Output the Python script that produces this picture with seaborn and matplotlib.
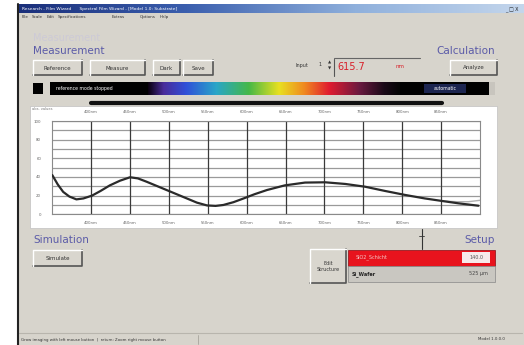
import numpy as np
import pandas as pd
import seaborn as sns
import matplotlib.pyplot as plt
import matplotlib.patches as mpatches
from matplotlib.colors import LinearSegmentedColormap

# spectrum curve (wavelength in nm, value)
wavelength = [350, 357, 364, 372, 381, 390, 401, 412, 424, 437, 450, 460, 471, 484,
              497, 510, 523, 536, 549, 560, 570, 583, 596, 610, 626, 649, 675, 701,
              727, 752, 778, 804, 829, 851, 872, 898]
signal = [42, 32, 24, 19, 16, 17, 20, 25, 31, 36, 39.7, 38.5, 35, 30.5,
          26, 21.5, 17, 12.5, 9.5, 9, 10, 13, 17, 21.5, 26, 31, 34, 34.3,
          32.5, 29.6, 25, 20.7, 17, 14.3, 11.8, 9.2]
ref_wl = [851, 870, 885, 900]
ref_val = [14.3, 13.5, 13.5, 15]

x_ticks = [400, 450, 500, 550, 600, 650, 700, 750, 800, 850]
x_labels = ['%dnm' % v for v in x_ticks]
y_ticks = [0, 20, 40, 60, 80, 100]

menu_items = ['File', 'Scale', 'Edit', 'Specifications', 'Extras', 'Options', 'Help']
buttons = ['Reference', 'Measure', 'Dark', 'Save']
layers = ['SiO2_Schicht', 'Si_Wafer']
layer_vals = ['140.0', '525 µm']

sns.set_theme(style='white')
plt.rcParams['font.family'] = ['DejaVu Sans']

W, H = 524, 345
BG = '#d7d4cc'
BLUE = '#5b5ba8'

fig = plt.figure(figsize=(W / 100, H / 100), dpi=100)
fig.patch.set_facecolor('white')

ui = fig.add_axes([0, 0, 1, 1])
ui.set_xlim(0, W)
ui.set_ylim(H, 0)
ui.axis('off')


def box(x0, y0, x1, y1, fc, ec='none', lw=0, z=1):
    ui.add_patch(mpatches.Rectangle((x0, y0), x1 - x0, y1 - y0, fc=fc, ec=ec, lw=lw, zorder=z))


def button(x0, y0, x1, y1, label, fs=4):
    box(x0, y0, x1, y1, '#d9d6ce', z=2)
    ui.plot([x0, x1, x1], [y1, y1, y0], color='#555555', lw=1.2, zorder=3)
    ui.plot([x0, x0, x1], [y1, y0, y0], color='white', lw=1, zorder=3)
    ui.text((x0 + x1) / 2, (y0 + y1) / 2 + 0.5, label, fontsize=fs, color='#333333',
            ha='center', va='center', zorder=4)


# window
box(17, 4, W, H, BG)
ui.plot([17.5, 17.5], [4, H], color='#222222', lw=1.5, zorder=5)

# title bar
grad = np.linspace(0, 1, 256).reshape(1, -1)
title_cmap = LinearSegmentedColormap.from_list('tb', ['#1a2f7a', '#3b5fae', '#8fb0dc', '#c4d6ec'])
ui.imshow(grad, cmap=title_cmap, extent=(18, W, 13, 4), aspect='auto', zorder=2)
ui.text(22, 8.8, 'Research - Film Wizard      Spectral Film Wizard - [Model 1.0: Substrate]',
        fontsize=3.2, color='white', va='center', zorder=3)
ui.text(519, 9, '_ □ X', fontsize=3.5, color='#222222', ha='right', va='center', zorder=3)

# menu
menu_x = [22, 32, 47, 58, 112, 140, 160]
for mx, item in zip(menu_x, menu_items):
    ui.text(mx, 17, item, fontsize=3, color='#333333', va='center')

# measurement group
ui.text(33, 38, 'Measurement', fontsize=7, color='#cdcad6', va='center')
ui.text(33, 51, 'Measurement', fontsize=7.5, color=BLUE, va='center')
for (x0, x1), lab in zip([(33, 82), (90, 145), (153, 180), (183, 213)], buttons):
    button(x0, 60, x1, 75, lab)

ui.text(296, 65, 'Input', fontsize=3.5, color='#333333', va='center')
ui.text(318, 65, '1', fontsize=3.5, color='#333333', va='center')
ui.text(329.5, 63, '▲', fontsize=3, color='#333333', ha='center', va='center')
ui.text(329.5, 69, '▼', fontsize=3, color='#333333', ha='center', va='center')
ui.plot([334, 334], [59, 76], color='#555555', lw=0.8)
ui.plot([334, 420], [58, 58], color='#666666', lw=0.8)
ui.text(337, 67, '615.7', fontsize=7, color='#d8202a', va='center')
ui.text(400, 67, 'nm', fontsize=4, color='#d8202a', ha='center', va='center')

ui.text(495, 51, 'Calculation', fontsize=7.5, color=BLUE, ha='right', va='center')
button(450, 60, 497, 75, 'Analyze')

# spectrum bar
box(33, 83, 43, 94, 'black')
box(50, 82, 489, 95, 'black')
spec_cmap = LinearSegmentedColormap.from_list('spec', [
    (0.0, '#0a0010'), (0.06, '#4a2c9a'), (0.15, '#3050d8'), (0.27, '#2aa6c8'),
    (0.4, '#46b848'), (0.52, '#e8e020'), (0.62, '#f08a20'), (0.72, '#e01c30'),
    (0.84, '#6a1a40'), (0.94, '#1a0a18'), (1.0, '#050505')])
ui.imshow(grad, cmap=spec_cmap, extent=(148, 400, 95, 82), aspect='auto', zorder=2)
ui.text(56, 88.5, 'reference mode stopped', fontsize=3.3, color='white', va='center', zorder=3)
box(424, 84, 466, 93, '#1c2550', z=3)
ui.text(445, 88.5, 'automatic', fontsize=3.3, color='white', ha='center', va='center', zorder=4)
box(489, 82, 495, 95, '#c8c5be', z=3)

# thick bar above plot
ui.plot([91, 442], [102.5, 102.5], color='#111111', lw=3, solid_capstyle='round')

# plot panel
box(30, 106, 497, 228, 'white', ec='#c0c0c0', lw=0.5)
ui.text(32, 108.5, 'abs. values', fontsize=2.6, color='#777777', va='center')

# bottom section
ui.text(33, 240, 'Simulation', fontsize=7.5, color=BLUE, va='center')
button(33, 250, 82, 266, 'Simulate')
ui.text(495, 240, 'Setup', fontsize=7.5, color=BLUE, ha='right', va='center')
ui.plot([421.5, 421.5], [229, 249], color='#333333', lw=0.8)
ui.plot([419, 424], [236, 236], color='#333333', lw=0.6)

button(310, 249, 346, 283, 'Edit\nStructure', fs=3.5)
box(348, 250, 495, 266, '#e8131d', ec='#8a0a10', lw=0.5)
ui.text(356, 257, layers[0], fontsize=3.5, color='#f3c7c7', va='center', zorder=3)
box(462, 252, 490, 263, '#f6eaea', z=3)
ui.text(476, 257.5, layer_vals[0], fontsize=3.5, color='#555555', ha='center', va='center', zorder=4)
box(348, 266, 495, 282, '#c9c7c1', ec='#888888', lw=0.5)
ui.text(352, 274, layers[1], fontsize=3.5, color='#222222', fontweight='bold', va='center', zorder=3)
ui.text(488, 274, layer_vals[1], fontsize=3.5, color='#444444', ha='right', va='center', zorder=3)

# status bar
ui.plot([19, 522], [333, 333], color='#b8b5ad', lw=0.8)
ui.plot([198, 198], [335, 344], color='#a8a59d', lw=0.6)
ui.text(21, 339.5, 'Grow imaging with left mouse button  |  return: Zoom right mouse button',
        fontsize=2.8, color='#333333', va='center')
ui.text(505, 339.5, 'Model 1.0.0.0', fontsize=2.8, color='#333333', ha='right', va='center')

# spectrum plot
L, R, T, B = 52.3, 480, 121, 214.3
ax = fig.add_axes([L / W, 1 - B / H, (R - L) / W, (B - T) / H])
ax.set_facecolor('white')
df = pd.DataFrame({'wavelength': wavelength, 'signal': signal})
df_ref = pd.DataFrame({'wavelength': ref_wl, 'signal': ref_val})
for yv in range(0, 101, 10):
    ax.axhline(yv, color='#9a9a9a', lw=0.9, zorder=1)
for xv in x_ticks:
    ax.axvline(xv, color='#3a3a3a', lw=0.9, zorder=1)
sns.lineplot(data=df_ref, x='wavelength', y='signal', ax=ax, color='#b0b0b0', lw=1, zorder=2)
sns.lineplot(data=df, x='wavelength', y='signal', ax=ax, color='#2a2a2a', lw=1.6, zorder=3)
ax.set_xlim(350, 900)
ax.set_ylim(0, 100)
ax.set_xlabel('')
ax.set_ylabel('')
ax.set_xticks(x_ticks)
ax.set_xticklabels(x_labels)
ax.set_yticks(y_ticks)
ax.set_yticklabels([str(v) for v in y_ticks])
ax.tick_params(axis='x', labelsize=2.8, labelcolor='#666666', length=0, pad=5, labeltop=True)
ax.tick_params(axis='y', labelsize=2.8, labelcolor='#666666', length=0, pad=8)
for sp in ax.spines.values():
    sp.set_color('#8a8a8a')
    sp.set_linewidth(0.8)

fig.savefig('out.png', dpi=100)
